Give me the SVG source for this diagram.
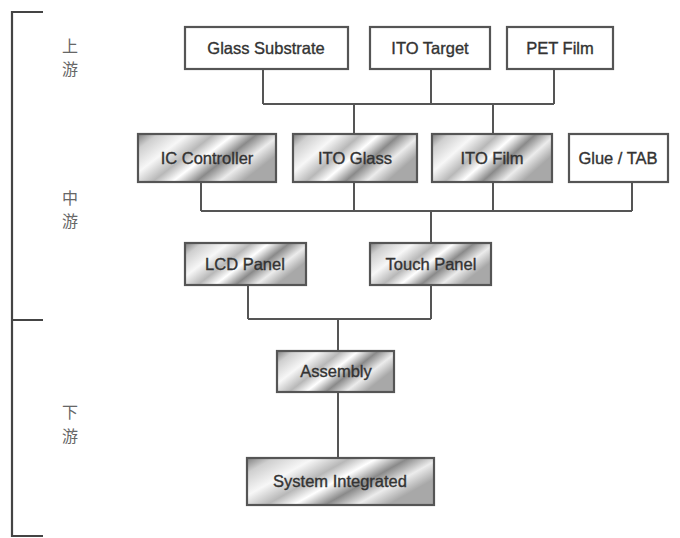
<svg xmlns="http://www.w3.org/2000/svg" width="680" height="538" viewBox="0 0 680 538">
<defs>
<linearGradient id="metal" x1="0" y1="0" x2="1" y2="0.45">
<stop offset="0" stop-color="#7e7e7e"/>
<stop offset="0.12" stop-color="#cfcfcf"/>
<stop offset="0.3" stop-color="#f7f7f7"/>
<stop offset="0.46" stop-color="#b8b8b8"/>
<stop offset="0.58" stop-color="#ffffff"/>
<stop offset="0.72" stop-color="#8a8a8a"/>
<stop offset="0.86" stop-color="#ececec"/>
<stop offset="1" stop-color="#a8a8a8"/>
</linearGradient>
<style>
.box{fill:#fff;stroke:#555;stroke-width:2.2}
.met{fill:url(#metal);stroke:#555;stroke-width:2.2}
.lbl{font-family:"Liberation Sans",Arial,sans-serif;font-size:16.5px;fill:#333;stroke:#333;stroke-width:0.35;text-anchor:middle;dominant-baseline:central}
.cn{font-family:"Noto Sans CJK SC","Noto Sans CJK TC",sans-serif;font-size:16px;fill:#666;text-anchor:middle;dominant-baseline:central}
.ln{fill:none;stroke:#555;stroke-width:2}
.br{fill:none;stroke:#444;stroke-width:2.2}
</style>
</defs>
<rect width="680" height="538" fill="#fff"/>
<g id="bracket">
<path class="br" d="M43 12 H12 V536 H43 M12 320 H43"/>
<text class="cn" x="70" y="45">上</text>
<text class="cn" x="70" y="68">游</text>
<text class="cn" x="70" y="197">中</text>
<text class="cn" x="70" y="220">游</text>
<text class="cn" x="70" y="411">下</text>
<text class="cn" x="70" y="435">游</text>
</g>
<g id="connectors">
<path class="ln" d="M263 69 V104 M431 69 V104 M554 69 V104 M263 104 H554 M354 104 V134 M493 104 V134"/>
<path class="ln" d="M201 182 V211 M354 182 V211 M493 182 V211 M632 182 V211 M201 211 H632 M431 211 V243"/>
<path class="ln" d="M248 285 V319 M431 285 V319 M248 319 H431 M338 319 V351 M338 392 V458"/>
</g>
<g id="glass-substrate"><rect class="box" x="185" y="27" width="163" height="42"/><text class="lbl" x="266" y="48">Glass Substrate</text></g>
<g id="ito-target"><rect class="box" x="370" y="27" width="120" height="42"/><text class="lbl" x="430" y="48">ITO Target</text></g>
<g id="pet-film"><rect class="box" x="507" y="27" width="106" height="42"/><text class="lbl" x="560" y="48">PET Film</text></g>
<g id="ic-controller"><rect class="met" x="138" y="134" width="138" height="48"/><text class="lbl" x="207" y="158">IC Controller</text></g>
<g id="ito-glass"><rect class="met" x="293" y="134" width="124" height="48"/><text class="lbl" x="355" y="158">ITO Glass</text></g>
<g id="ito-film"><rect class="met" x="432" y="134" width="120" height="48"/><text class="lbl" x="492" y="158">ITO Film</text></g>
<g id="glue-tab"><rect class="box" x="569" y="134" width="99" height="48"/><text class="lbl" x="618" y="158">Glue / TAB</text></g>
<g id="lcd-panel"><rect class="met" x="185" y="243" width="121" height="42"/><text class="lbl" x="245" y="264">LCD Panel</text></g>
<g id="touch-panel"><rect class="met" x="370" y="243" width="121" height="42"/><text class="lbl" x="431" y="264">Touch Panel</text></g>
<g id="assembly"><rect class="met" x="277" y="351" width="117" height="41"/><text class="lbl" x="336" y="371">Assembly</text></g>
<g id="system-integrated"><rect class="met" x="247" y="458" width="187" height="47"/><text class="lbl" x="340" y="481">System Integrated</text></g>
</svg>
